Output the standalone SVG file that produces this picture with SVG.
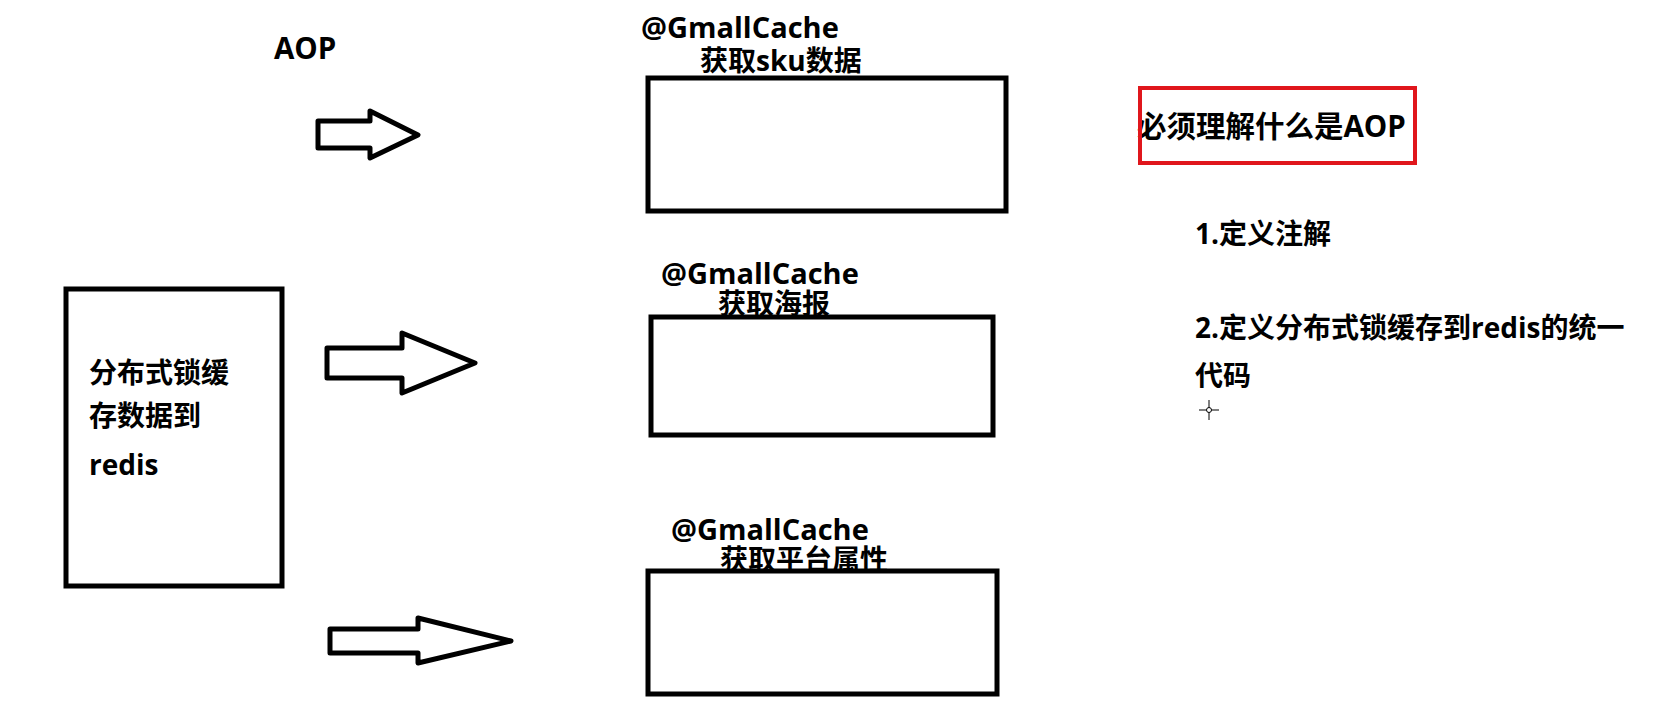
<svg xmlns="http://www.w3.org/2000/svg" width="1672" height="705" viewBox="0 0 1672 705">
<style>
.t{font-family:"Open Sans","Noto Sans CJK SC",sans-serif;font-weight:700;font-size:28px;fill:#000}
.g{font-size:29px}
.box{fill:#fff;stroke:#000;stroke-width:5}
.arr{fill:#fff;stroke:#000;stroke-width:5;stroke-linejoin:round}
</style>
<rect width="1672" height="705" fill="#fff"/>
<g id="title-aop"><text class="t" x="274" y="59" style="font-size:29.5px">AOP</text></g>
<g id="left-box">
<rect class="box" x="66" y="289" width="216" height="297"/>
<text class="t" x="89" y="383">分布式锁缓</text>
<text class="t" x="89" y="426">存数据到</text>
<text class="t" x="89" y="475">redis</text>
</g>
<g id="connectors">
<path class="arr" d="M318,121 L370,121 L370,111 L418,135 L370,158 L370,148 L318,148 Z"/>
<path class="arr" d="M327,348 L402,348 L402,333 L475,363 L402,393 L402,378 L327,378 Z"/>
<path class="arr" d="M330,629 L418,629 L418,618 L511,641 L418,663 L418,653 L330,653 Z"/>
</g>
<g id="box-sku">
<text class="t g" x="641" y="38">@GmallCache</text>
<text class="t" x="700" y="71">获取sku数据</text>
<rect class="box" x="648" y="78" width="358" height="133"/>
</g>
<g id="box-poster">
<text class="t g" x="661" y="284">@GmallCache</text>
<text class="t" x="718" y="314">获取海报</text>
<rect class="box" x="651" y="317" width="342" height="118"/>
</g>
<g id="box-attr">
<text class="t g" x="671" y="540">@GmallCache</text>
<text class="t" x="720" y="570">获取平台属性</text>
<rect class="box" x="648" y="571" width="349" height="123"/>
</g>
<g id="note-aop">
<text class="t" x="1137" y="137" style="font-size:29.5px">必须理解什么是AOP</text>
<rect x="1140" y="88" width="275" height="75" fill="none" stroke="#e0161c" stroke-width="4"/>
</g>
<g id="steps">
<text class="t" x="1195" y="244">1.定义注解</text>
<text class="t" x="1195" y="338">2.定义分布式锁缓存到redis的统一</text>
<text class="t" x="1195" y="386">代码</text>
</g>
<g id="cursor" stroke="#000" stroke-width="1" fill="none">
<line x1="1199" y1="410" x2="1219" y2="410"/>
<line x1="1209" y1="400" x2="1209" y2="420"/>
<circle cx="1209" cy="410" r="2.5" fill="#fff"/>
</g>
</svg>
